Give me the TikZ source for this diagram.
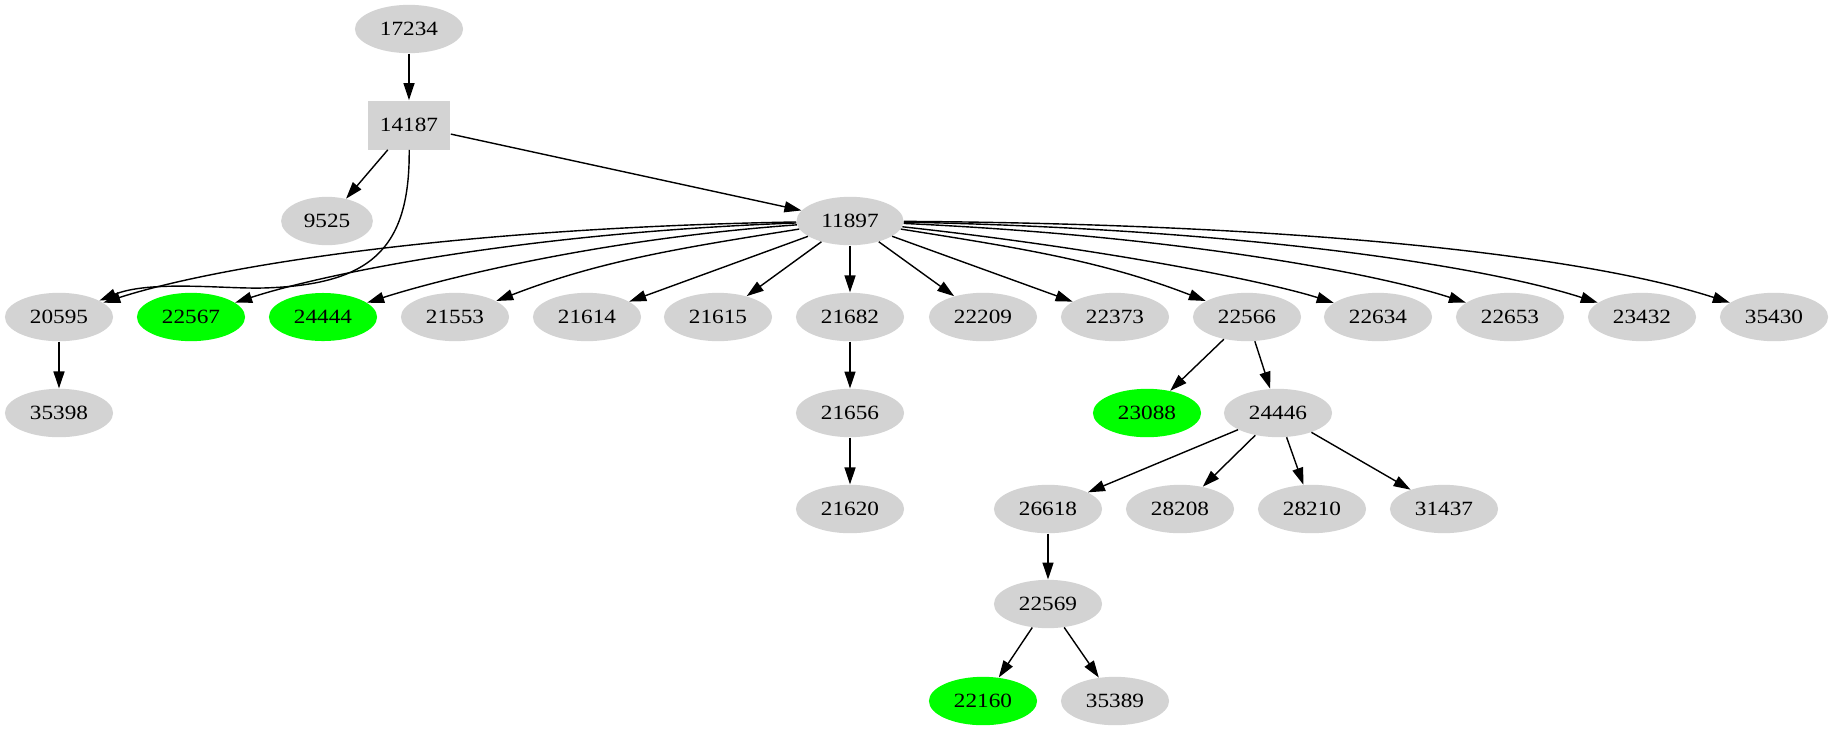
\documentclass[tikz,border=0pt]{standalone}
\usepackage{fontspec}
\setmainfont{Liberation Serif}[FakeStretch = 1.15]
\usepackage{xcolor}
\usepackage{tikz}
\usetikzlibrary{shapes.geometric}
\usetikzlibrary{arrows.meta}
\definecolor{lgray}{HTML}{D3D3D3}
\definecolor{lgreen}{HTML}{00FF00}

\begin{document}
\begin{tikzpicture}[x = 0.02cm, y = 0.02cm,
        vertex/.style = {ellipse, fill = lgray, inner xsep = 0.184cm, inner ysep = 0.206cm, font = \fontsize{11.5}{14}\selectfont},
        hit/.style = {vertex, fill = lgreen},
        boxvertex/.style = {rectangle, fill = lgray, minimum width = 1.66cm, minimum height = 0.98cm, font = \fontsize{11.5}{14}\selectfont},
        arr/.style = {-{Triangle[length = 0.34cm, width = 0.22cm]}, line width = 0.8pt}]
        \useasboundingbox (0, 0) rectangle (1834, -731);
        \node (17234) at (409, -29) [vertex] {17234};
        \node (14187) at (409, -125) [boxvertex] {14187};
        \node (9525) at (327, -221) [vertex] {9525};
        \node (11897) at (850, -221) [vertex] {11897};
        \node (20595) at (59, -317) [vertex] {20595};
        \node (22567) at (191, -317) [hit] {22567};
        \node (24444) at (323, -317) [hit] {24444};
        \node (21553) at (455, -317) [vertex] {21553};
        \node (21614) at (587, -317) [vertex] {21614};
        \node (21615) at (718, -317) [vertex] {21615};
        \node (21682) at (850, -317) [vertex] {21682};
        \node (22209) at (983, -317) [vertex] {22209};
        \node (22373) at (1115, -317) [vertex] {22373};
        \node (22566) at (1247, -317) [vertex] {22566};
        \node (22634) at (1378, -317) [vertex] {22634};
        \node (22653) at (1510, -317) [vertex] {22653};
        \node (23432) at (1642, -317) [vertex] {23432};
        \node (35430) at (1774, -317) [vertex] {35430};
        \node (35398) at (59, -413) [vertex] {35398};
        \node (21656) at (850, -413) [vertex] {21656};
        \node (23088) at (1147, -413) [hit] {23088};
        \node (24446) at (1278, -413) [vertex] {24446};
        \node (21620) at (850, -509) [vertex] {21620};
        \node (26618) at (1048, -509) [vertex] {26618};
        \node (28208) at (1180, -509) [vertex] {28208};
        \node (28210) at (1312, -509) [vertex] {28210};
        \node (31437) at (1444, -509) [vertex] {31437};
        \node (22569) at (1048, -604) [vertex] {22569};
        \node (22160) at (983, -701) [hit] {22160};
        \node (35389) at (1115, -701) [vertex] {35389};
        \draw [arr] (17234) edge (14187);
        \draw [arr] (14187) edge (9525);
        \draw [arr] (14187) edge (11897);
        \draw [arr] (14187) .. controls (410, -250) and (370, -285) .. (263, -288) .. controls (225, -289) and (150, -280) .. (20595);
        \draw [arr] (11897) .. controls (455, -228) and (217, -266) .. (20595);
        \draw [arr] (11897) .. controls (521, -233) and (323, -274) .. (22567);
        \draw [arr] (11897) .. controls (587, -240) and (428, -283) .. (24444);
        \draw [arr] (11897) .. controls (680, -248) and (599, -261) .. (21553);
        \draw [arr] (11897) edge (21614);
        \draw [arr] (11897) edge (21615);
        \draw [arr] (11897) edge (21682);
        \draw [arr] (11897) edge (22209);
        \draw [arr] (11897) edge (22373);
        \draw [arr] (11897) .. controls (1020, -248) and (1103, -261) .. (22566);
        \draw [arr] (11897) .. controls (1114, -250) and (1272, -283) .. (22634);
        \draw [arr] (11897) .. controls (1180, -236) and (1378, -274) .. (22653);
        \draw [arr] (11897) .. controls (1246, -229) and (1484, -266) .. (23432);
        \draw [arr] (11897) .. controls (1312, -224) and (1589, -257) .. (35430);
        \draw [arr] (20595) edge (35398);
        \draw [arr] (21682) edge (21656);
        \draw [arr] (21656) edge (21620);
        \draw [arr] (22566) edge (23088);
        \draw [arr] (22566) edge (24446);
        \draw [arr] (24446) edge (26618);
        \draw [arr] (24446) edge (28208);
        \draw [arr] (24446) edge (28210);
        \draw [arr] (24446) edge (31437);
        \draw [arr] (26618) edge (22569);
        \draw [arr] (22569) edge (22160);
        \draw [arr] (22569) edge (35389);
    \end{tikzpicture}
\end{document}
